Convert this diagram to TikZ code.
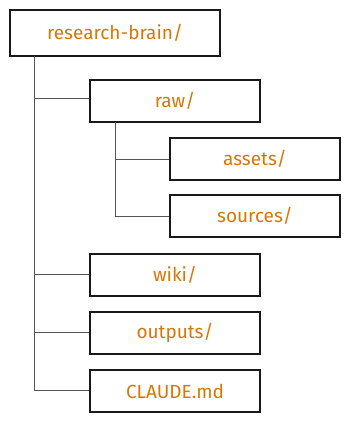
\documentclass[tikz,border=0pt]{standalone}
\usepackage{fontspec}
\setmainfont{Fira Sans}
\definecolor{txt}{RGB}{217,119,6}
\definecolor{ln}{RGB}{85,85,85}
\begin{document}
\begin{tikzpicture}[x=1pt,y=-1pt,
  box/.style={draw=black!90, line width=1.3pt, fill=white, minimum width=170pt, minimum height=42pt, inner sep=0pt, text=txt, font=\fontsize{19}{22}\selectfont},
  conn/.style={draw=ln, line width=0.9pt}]
\useasboundingbox (0,0) rectangle (350,422);
\node[box, minimum width=210pt, minimum height=46pt] (root) at (115,33) {research-brain/};
\node[box] (raw) at (175,101) {raw/};
\node[box] (assets) at (255,159) {assets/};
\node[box] (sources) at (255,216) {sources/};
\node[box] (wiki) at (175,275) {wiki/};
\node[box] (outputs) at (175,333) {outputs/};
\node[box] (claude) at (175,391) {CLAUDE.md};
\coordinate (t0) at (34,56);
\coordinate (t1) at (34,98);
\coordinate (t2) at (34,274);
\coordinate (t3) at (34,332);
\coordinate (t4) at (34,390);
\coordinate (s0) at (115,122);
\coordinate (s1) at (115,159);
\coordinate (s2) at (115,216);
\draw[conn] (t0) -- (t4) -- (claude.west |- t4);
\draw[conn] (t1) -- (raw.west |- t1);
\draw[conn] (t2) -- (wiki.west |- t2);
\draw[conn] (t3) -- (outputs.west |- t3);
\draw[conn] (s0) -- (s2) -- (sources.west |- s2);
\draw[conn] (s1) -- (assets.west |- s1);
\end{tikzpicture}
\end{document}
